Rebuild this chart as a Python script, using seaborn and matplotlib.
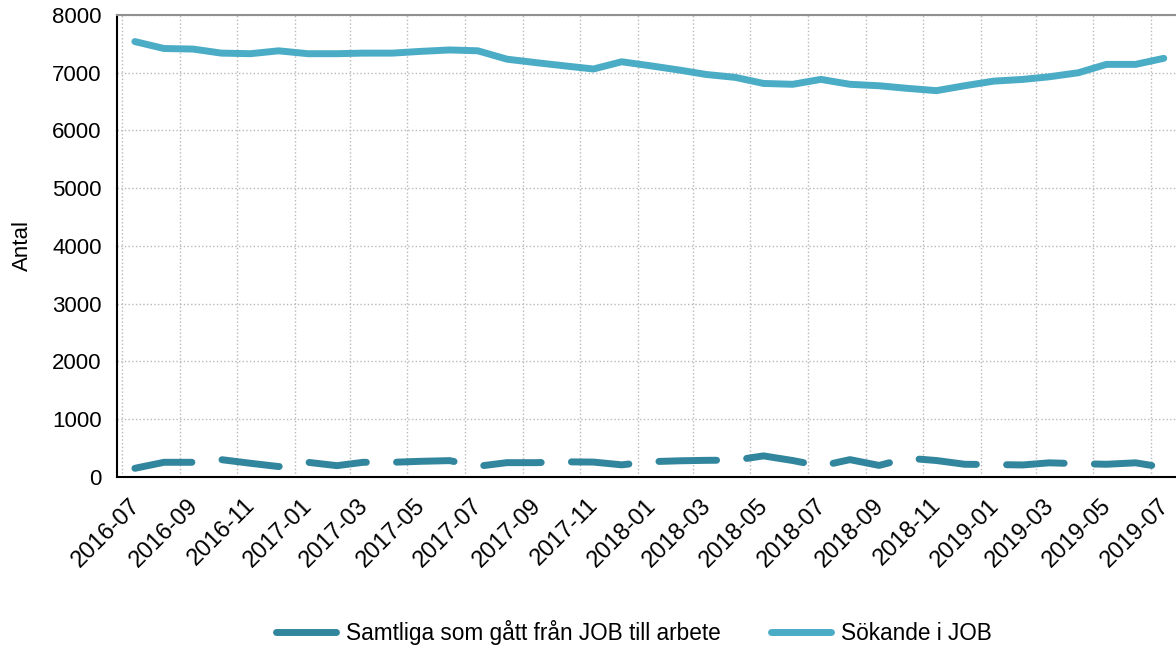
import numpy as np
import pandas as pd
import matplotlib
matplotlib.use('Agg')
import matplotlib.pyplot as plt
import matplotlib.dates as mdates
from matplotlib.lines import Line2D
from matplotlib.transforms import ScaledTranslation
import seaborn as sns

# monthly values, 2016-07 .. 2019-07 (plotted mid-month)
manader = pd.date_range('2016-07-01', '2019-07-01', freq='MS') + pd.Timedelta(days=14)

sokande = [7540, 7420, 7410, 7340, 7330, 7380, 7330, 7330, 7340, 7340, 7370, 7395, 7380,
           7235, 7175, 7120, 7065, 7190, 7120, 7045, 6970, 6920, 6815, 6800, 6885,
           6800, 6775, 6730, 6690, 6775, 6855, 6885, 6930, 7000, 7145, 7145, 7250]

arbete = [150, 254, 254, 300, 237, 180, 254, 196, 254, 254, 271, 283, 185,
          248, 248, 262, 258, 210, 265, 280, 288, 292, 365, 285, 190,
          300, 200, 325, 285, 220, 215, 208, 245, 230, 220, 245, 165]

namn_arbete = 'Samtliga som gått från JOB till arbete'
namn_sokande = 'Sökande i JOB'
farg_arbete = '#31859C'
farg_sokande = '#4BACC6'

df = pd.DataFrame({'Manad': manader, 'arbete': arbete, 'sokande': sokande})

sns.set_style('white')
plt.rcParams['font.family'] = ['Liberation Sans', 'DejaVu Sans']
plt.rcParams['text.color'] = 'black'
plt.rcParams['axes.labelcolor'] = 'black'
plt.rcParams['xtick.color'] = 'black'
plt.rcParams['ytick.color'] = 'black'

fig = plt.figure(figsize=(11.76, 6.47), dpi=100)
ax = fig.add_axes([0.0995, 0.2628, 0.9005, 0.714])

sns.lineplot(data=df, x='Manad', y='arbete', ax=ax, color=farg_arbete, linewidth=5)
sns.lineplot(data=df, x='Manad', y='sokande', ax=ax, color=farg_sokande, linewidth=5)
ax.lines[0].set_linestyle((0, (8.3, 4.35)))
ax.lines[0].set_dash_capstyle('round')
ax.lines[0].set_solid_capstyle('round')
ax.lines[1].set_solid_capstyle('round')

ax.set_ylim(0, 8000)
ax.set_yticks(range(0, 8001, 1000))
ax.set_xlim(pd.Timestamp('2016-06-26'), pd.Timestamp('2019-07-28'))
ax.xaxis.set_major_locator(mdates.MonthLocator(bymonth=[1, 3, 5, 7, 9, 11]))
ax.xaxis.set_major_formatter(mdates.DateFormatter('%Y-%m'))

ax.grid(True, linestyle=':', color='#b8b8b8', linewidth=1)
for s in ['left', 'bottom']:
    ax.spines[s].set_color('black')
    ax.spines[s].set_linewidth(1.5)
ax.spines['right'].set_visible(False)
ax.spines['top'].set_color('#909090')
ax.spines['top'].set_linewidth(1.5)

ax.tick_params(axis='y', length=6, width=1.5, color='#606060', labelsize=16, pad=5)
ax.tick_params(axis='x', length=7, width=1.5, color='#404040', labelsize=17, pad=5.5)
ax.set_xlabel('')
ax.set_ylabel('Antal', fontsize=16, labelpad=14)

fig.canvas.draw()
flytt = ScaledTranslation(0.07, 0, fig.dpi_scale_trans)
for t in ax.get_xticklabels():
    t.set_rotation(45)
    t.set_ha('right')
    t.set_va('top')
    t.set_rotation_mode('anchor')
    t.set_transform(t.get_transform() + flytt)

handtag = [Line2D([], [], color=farg_arbete, linewidth=5, solid_capstyle='round'),
           Line2D([], [], color=farg_sokande, linewidth=5, solid_capstyle='round')]
fig.legend(handtag, [namn_arbete, namn_sokande], loc='center', bbox_to_anchor=(0.539, 0.023),
           ncol=2, frameon=False, fontsize=16.3, handlelength=2.65, handletextpad=0.45,
           columnspacing=2.2)

fig.savefig('out.png', dpi=100)
